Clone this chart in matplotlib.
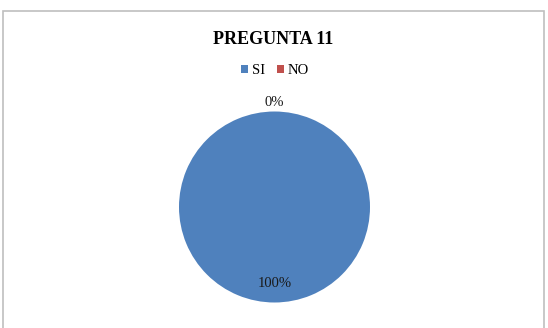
import matplotlib.pyplot as plt
from matplotlib.patches import Rectangle, Patch
import numpy as np

# data
categories = ['SI', 'NO']
values = [100, 0]
colors = ['#4F81BD', '#C0504D']
title = 'PREGUNTA 11'

plt.rcParams['font.family'] = ['Liberation Serif', 'DejaVu Serif']

W, H = 548, 328
fig = plt.figure(figsize=(W / 100, H / 100), dpi=100)

# chart border (bottom edge runs off the image)
fig.patches.append(Rectangle((3 / W, -0.05), 541 / W, 317 / H + 0.05, transform=fig.transFigure,
                             fill=False, edgecolor='#BFBFBF', linewidth=1.2))

fig.text(273 / W, 1 - 40 / H, title, ha='center', va='center',
         fontsize=13, fontweight='bold')

# pie axes, placed by pixel
cx, cy, r = 274.5, 207, 95.5
ax = fig.add_axes([(cx - r) / W, (H - cy - r) / H, 2 * r / W, 2 * r / H])
wedges, _ = ax.pie(values, colors=colors, startangle=90, counterclock=False,
                   wedgeprops=dict(linewidth=0))
ax.set_xlim(-1, 1)
ax.set_ylim(-1, 1)

total = sum(values)
dists = [0.80, 1.09]
for w, v, d in zip(wedges, values, dists):
    ang = np.deg2rad((w.theta1 + w.theta2) / 2)
    ax.text(d * np.cos(ang), d * np.sin(ang), f'{v / total * 100:.0f}%',
            ha='center', va='center', fontsize=10.5, color='#1a1a1a', clip_on=False)

handles = [Patch(facecolor=c, edgecolor='none') for c in colors]
fig.legend(handles, categories, loc='center', bbox_to_anchor=(275 / W, 1 - 71 / H),
           ncol=2, frameon=False, fontsize=10.5, handlelength=0.5, handleheight=0.5,
           handletextpad=0.25, columnspacing=0.8)

fig.savefig('out.png', dpi=100)
